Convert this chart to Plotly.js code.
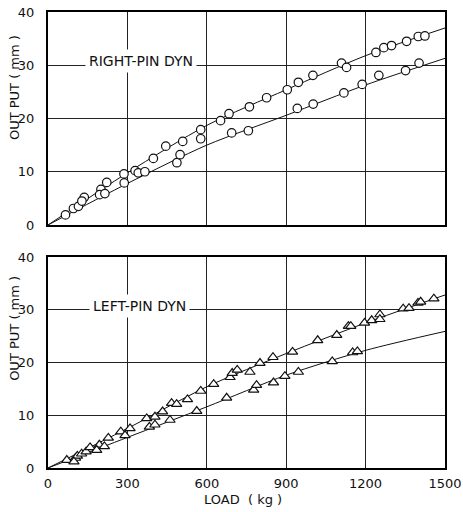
<!DOCTYPE html>
<html>
<head>
<meta charset="utf-8">
<script src="https://cdn.plot.ly/plotly-3.0.1.min.js"></script>
<style>
  html, body { margin: 0; padding: 0; background: #fff; }
  #chart { width: 463px; height: 512px; }
</style>
</head>
<body>
<div id="chart"></div>
<script>
// Right-pin dynamometer: load (kg) vs output (mm), two runs
const rightUpperLoad = [66, 96, 115, 137, 200, 222, 287, 329, 341, 366, 398, 445, 509, 577, 652, 684, 761, 826, 904, 946, 1001, 1109, 1128, 1239, 1269, 1298, 1355, 1399, 1424];
const rightUpperOut  = [1.9, 3.1, 3.5, 5.2, 6.7, 8.0, 9.6, 10.2, 9.8, 10.0, 12.5, 14.8, 15.7, 17.9, 19.6, 20.9, 22.2, 23.9, 25.4, 26.8, 28.1, 30.4, 29.6, 32.4, 33.3, 33.7, 34.5, 35.4, 35.5];
const rightLowerLoad = [128, 195, 215, 288, 487, 499, 577, 694, 757, 942, 1002, 1118, 1187, 1250, 1351, 1402];
const rightLowerOut  = [4.5, 5.7, 5.9, 7.9, 11.7, 13.2, 16.2, 17.3, 17.7, 21.9, 22.7, 24.8, 26.4, 28.1, 29.0, 30.4];

// Left-pin dynamometer
const leftUpperLoad = [71, 104, 111, 127, 144, 159, 194, 228, 275, 310, 373, 404, 433, 467, 486, 527, 577, 626, 688, 696, 715, 763, 801, 850, 924, 1019, 1091, 1135, 1144, 1196, 1223, 1254, 1254, 1342, 1364, 1398, 1408, 1458];
const leftUpperOut  = [1.5, 1.9, 2.3, 2.7, 3.1, 3.9, 4.4, 5.7, 6.9, 7.5, 9.4, 9.7, 10.7, 12.3, 12.1, 13.0, 14.6, 15.9, 17.2, 18.0, 18.6, 18.2, 19.9, 21.0, 22.0, 24.2, 25.2, 26.9, 26.9, 27.5, 28.0, 29.1, 28.2, 30.2, 30.3, 31.3, 31.5, 32.1];
const leftLowerLoad = [98, 184, 213, 291, 383, 404, 461, 562, 675, 777, 788, 852, 895, 946, 1074, 1151, 1169];
const leftLowerOut  = [1.2, 3.4, 4.1, 6.2, 7.8, 8.2, 9.1, 10.8, 13.3, 14.8, 15.7, 16.2, 17.4, 18.2, 20.2, 21.9, 22.1];

// Calibration curves
const curveLoad       = [0, 300, 600, 900, 1200, 1500];
const rightUpperCurve = [0, 9.8, 18.7, 25.4, 31.8, 37.0];
const rightLowerCurve = [0, 7.8, 15.0, 20.6, 26.3, 31.3];
const leftUpperCurve  = [0, 7.5, 15.4, 21.7, 27.5, 32.8];
const leftLowerCurve  = [0, 5.8, 11.6, 17.6, 22.3, 25.9];

const xTicks = [0, 300, 600, 900, 1200, 1500];
const yTicks = [0, 10, 20, 30, 40];

const FONT = 'DejaVu Sans, Liberation Sans, sans-serif';

function curve(x, y, xa, ya) {
  return { x: x, y: y, xaxis: xa, yaxis: ya, mode: 'lines',
           line: { color: '#111', width: 1, shape: 'spline', smoothing: 0.8 },
           hoverinfo: 'skip', showlegend: false };
}
function pts(x, y, xa, ya, sym, size) {
  return { x: x, y: y, xaxis: xa, yaxis: ya, mode: 'markers',
           marker: { symbol: sym, size: size, color: '#fff', line: { color: '#111', width: 1.2 } },
           showlegend: false };
}

const traces = [
  curve(curveLoad, rightUpperCurve, 'x2', 'y2'),
  curve(curveLoad, rightLowerCurve, 'x2', 'y2'),
  pts(rightUpperLoad, rightUpperOut, 'x2', 'y2', 'circle', 8.5),
  pts(rightLowerLoad, rightLowerOut, 'x2', 'y2', 'circle', 8.5),
  curve(curveLoad, leftUpperCurve, 'x', 'y'),
  curve(curveLoad, leftLowerCurve, 'x', 'y'),
  pts(leftUpperLoad, leftUpperOut, 'x', 'y', 'triangle-up', 9),
  pts(leftLowerLoad, leftLowerOut, 'x', 'y', 'triangle-up', 9)
];

const xBase = {
  range: [0, 1500], tickvals: xTicks, ticks: '', showgrid: true,
  gridcolor: '#222', gridwidth: 1, zeroline: false,
  showline: true, mirror: true, linecolor: '#000', linewidth: 2,
  tickfont: { family: FONT, size: 13, color: '#111' }
};
const yBase = {
  range: [0, 40], tickvals: yTicks, ticks: '', showgrid: true,
  gridcolor: '#222', gridwidth: 1, zeroline: false,
  showline: true, mirror: true, linecolor: '#000', linewidth: 2,
  ticklabelstandoff: 9,
  tickfont: { family: FONT, size: 13, color: '#111' }
};

const titleFont = { family: FONT, size: 13, color: '#111' };
const tagFont = { family: FONT, size: 14, color: '#111' };

const layout = {
  width: 463, height: 512,
  margin: { l: 48, r: 18, t: 12, b: 44 },
  paper_bgcolor: '#fff', plot_bgcolor: '#fff',
  xaxis: Object.assign({}, xBase, { anchor: 'y', domain: [0, 1], ticklabelstandoff: 2 }),
  yaxis: Object.assign({}, yBase, { anchor: 'x', domain: [0, 0.4627] }),
  xaxis2: Object.assign({}, xBase, { anchor: 'y2', domain: [0, 1], showticklabels: false }),
  yaxis2: Object.assign({}, yBase, { anchor: 'x2', domain: [0.5329, 1] }),
  annotations: [
    { text: 'RIGHT-PIN DYN', xref: 'x2', yref: 'y2', x: 350, y: 30.8, showarrow: false,
      xanchor: 'center', yanchor: 'middle',
      bgcolor: '#fff', borderpad: 3, font: tagFont },
    { text: 'LEFT-PIN DYN', xref: 'x', yref: 'y', x: 345, y: 30.8, showarrow: false,
      xanchor: 'center', yanchor: 'middle',
      bgcolor: '#fff', borderpad: 3, font: tagFont },
    { text: 'OUT PUT ( mm )', xref: 'paper', yref: 'paper', x: -0.086, y: 0.835,
      xanchor: 'center', yanchor: 'middle',
      textangle: -90, showarrow: false, font: titleFont },
    { text: 'OUT PUT ( mm )', xref: 'paper', yref: 'paper', x: -0.086, y: 0.307,
      xanchor: 'center', yanchor: 'middle',
      textangle: -90, showarrow: false, font: titleFont },
    { text: 'LOAD  ( kg )', xref: 'paper', yref: 'paper', x: 0.49, y: -0.068,
      xanchor: 'center', yanchor: 'middle',
      showarrow: false, font: titleFont }
  ]
};

Plotly.newPlot('chart', traces, layout, { staticPlot: true, displayModeBar: false });
</script>
</body>
</html>
